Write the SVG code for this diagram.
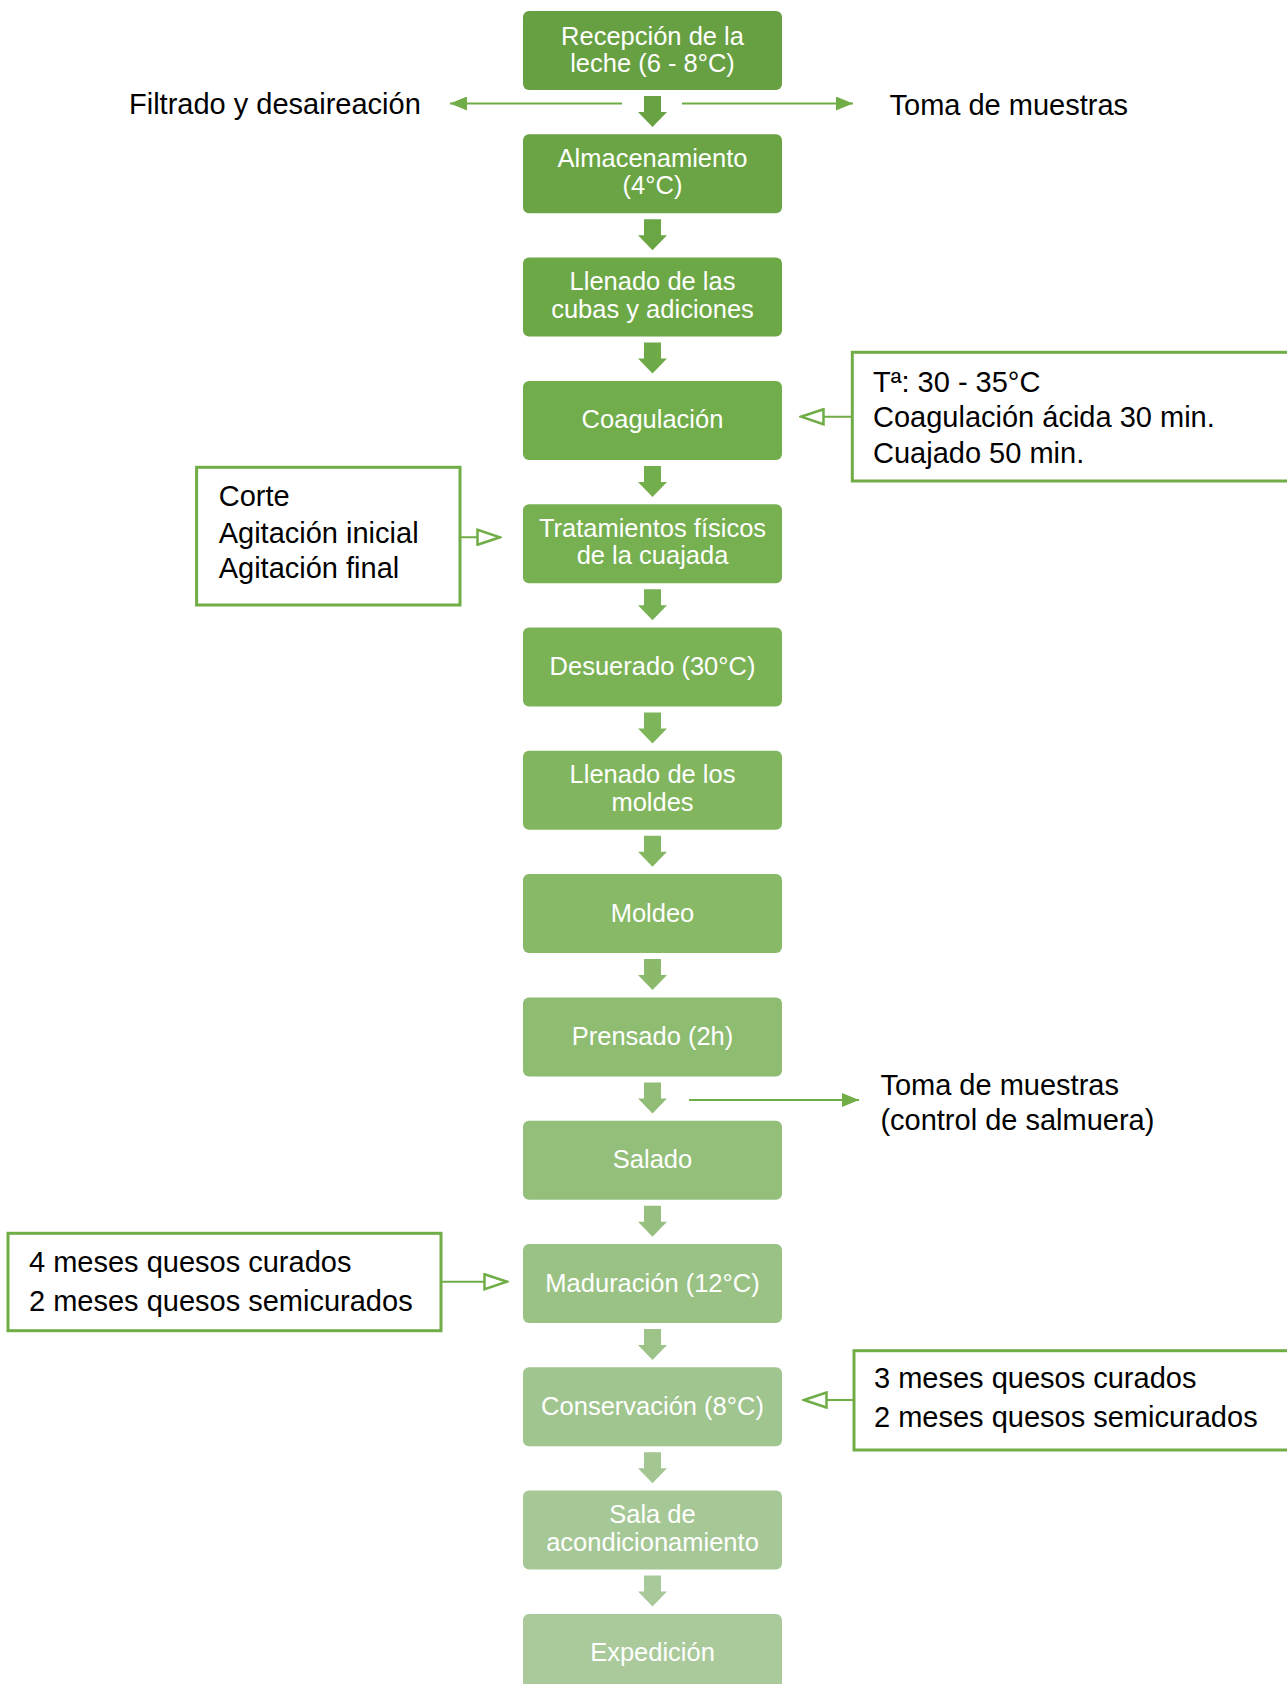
<svg xmlns="http://www.w3.org/2000/svg" xmlns:xlink="http://www.w3.org/1999/xlink" width="1287" height="1684" viewBox="0 0 1287 1684">
<style>
.bt{font-family:"Liberation Sans",Arial,sans-serif;font-size:25.5px;fill:#fff;text-anchor:middle}
.at{font-family:"Liberation Sans",Arial,sans-serif;font-size:29px;fill:#000}
.sb{fill:#fff;stroke:#70AD47;stroke-width:3}
.ln{stroke:#70AD47;stroke-width:2;fill:none}
</style>
<defs>
<path id="blk" d="M-8.5,0 H8.5 V16 H14.5 L0,31 L-14.5,16 H-8.5 Z"/>
<marker id="fa" viewBox="0 0 17 14" refX="17" refY="7" markerWidth="17" markerHeight="14" orient="auto" markerUnits="userSpaceOnUse">
<path d="M0,0 L17,7 L0,14 Z" fill="#70AD47"/>
</marker>
<marker id="oa" viewBox="0 0 26 18" refX="24" refY="9" markerWidth="26" markerHeight="18" orient="auto" markerUnits="userSpaceOnUse">
<path d="M1.5,1.5 L24,9 L1.5,16.5 Z" fill="#fff" stroke="#70AD47" stroke-width="2.5"/>
</marker>
</defs>
<rect width="1287" height="1684" fill="#fff"/>

<g id="connectors">
<use xlink:href="#blk" x="652.5" y="96" fill="#69A243"/>
<use xlink:href="#blk" x="652.5" y="219.3" fill="#6BA645"/>
<use xlink:href="#blk" x="652.5" y="342.6" fill="#6FAA48"/>
<use xlink:href="#blk" x="652.5" y="465.9" fill="#73AE4D"/>
<use xlink:href="#blk" x="652.5" y="589.2" fill="#78B153"/>
<use xlink:href="#blk" x="652.5" y="712.5" fill="#7EB45A"/>
<use xlink:href="#blk" x="652.5" y="835.8" fill="#84B762"/>
<use xlink:href="#blk" x="652.5" y="959.1" fill="#8BBA6C"/>
<use xlink:href="#blk" x="652.5" y="1082.4" fill="#91BD76"/>
<use xlink:href="#blk" x="652.5" y="1205.7" fill="#97C080"/>
<use xlink:href="#blk" x="652.5" y="1329" fill="#9DC389"/>
<use xlink:href="#blk" x="652.5" y="1452.3" fill="#A3C692"/>
<use xlink:href="#blk" x="652.5" y="1575.6" fill="#A8C999"/>
<line class="ln" x1="622" y1="103.5" x2="450" y2="103.5" marker-end="url(#fa)"/>
<line class="ln" x1="682" y1="103.5" x2="853" y2="103.5" marker-end="url(#fa)"/>
<line class="ln" x1="852" y1="416.7" x2="801" y2="416.7" marker-end="url(#oa)"/>
<line class="ln" x1="460" y1="537.3" x2="500" y2="537.3" marker-end="url(#oa)"/>
<line class="ln" x1="689" y1="1100" x2="859" y2="1100" marker-end="url(#fa)"/>
<line class="ln" x1="441" y1="1281.7" x2="507" y2="1281.7" marker-end="url(#oa)"/>
<line class="ln" x1="854" y1="1400" x2="804" y2="1400" marker-end="url(#oa)"/>
</g>

<g id="n0"><rect x="523" y="11" width="259" height="79" rx="6" fill="#67A042"/><text class="bt" x="652.5" y="44.5">Recepción de la</text><text class="bt" x="652.5" y="72">leche (6 - 8°C)</text></g>
<g id="n1"><rect x="523" y="134.3" width="259" height="79" rx="6" fill="#6AA444"/><text class="bt" x="652.5" y="166.8">Almacenamiento</text><text class="bt" x="652.5" y="194.3">(4°C)</text></g>
<g id="n2"><rect x="523" y="257.6" width="259" height="79" rx="6" fill="#6DA846"/><text class="bt" x="652.5" y="290.1">Llenado de las</text><text class="bt" x="652.5" y="317.6">cubas y adiciones</text></g>
<g id="n3"><rect x="523" y="380.9" width="259" height="79" rx="6" fill="#71AD4A"/><text class="bt" x="652.5" y="428.4">Coagulación</text></g>
<g id="n4"><rect x="523" y="504.2" width="259" height="79" rx="6" fill="#76B050"/><text class="bt" x="652.5" y="536.7">Tratamientos físicos</text><text class="bt" x="652.5" y="564.2">de la cuajada</text></g>
<g id="n5"><rect x="523" y="627.5" width="259" height="79" rx="6" fill="#7BB256"/><text class="bt" x="652.5" y="675">Desuerado (30°C)</text></g>
<g id="n6"><rect x="523" y="750.8" width="259" height="79" rx="6" fill="#81B65E"/><text class="bt" x="652.5" y="783.3">Llenado de los</text><text class="bt" x="652.5" y="810.8">moldes</text></g>
<g id="n7"><rect x="523" y="874.1" width="259" height="79" rx="6" fill="#88B967"/><text class="bt" x="652.5" y="921.6">Moldeo</text></g>
<g id="n8"><rect x="523" y="997.4" width="259" height="79" rx="6" fill="#8EBC71"/><text class="bt" x="652.5" y="1044.9">Prensado (2h)</text></g>
<g id="n9"><rect x="523" y="1120.7" width="259" height="79" rx="6" fill="#94BF7B"/><text class="bt" x="652.5" y="1168.2">Salado</text></g>
<g id="n10"><rect x="523" y="1244" width="259" height="79" rx="6" fill="#9BC285"/><text class="bt" x="652.5" y="1291.5">Maduración (12°C)</text></g>
<g id="n11"><rect x="523" y="1367.3" width="259" height="79" rx="6" fill="#A0C58E"/><text class="bt" x="652.5" y="1414.8">Conservación (8°C)</text></g>
<g id="n12"><rect x="523" y="1490.6" width="259" height="79" rx="6" fill="#A6C896"/><text class="bt" x="652.5" y="1523.1">Sala de</text><text class="bt" x="652.5" y="1550.6">acondicionamiento</text></g>
<g id="n13"><rect x="523" y="1613.9" width="259" height="79" rx="6" fill="#AACA9C"/><text class="bt" x="652.5" y="1661.4">Expedición</text></g>

<g id="filtrado"><text class="at" x="129" y="114">Filtrado y desaireación</text></g>
<g id="toma1"><text class="at" x="889.5" y="115">Toma de muestras</text></g>
<g id="coag-note"><rect class="sb" x="852.3" y="352.3" width="440" height="128.7"/><text class="at" x="873" y="391.7">Tª: 30 - 35°C</text><text class="at" x="873" y="427.3">Coagulación ácida 30 min.</text><text class="at" x="873" y="462.7">Cuajado 50 min.</text></g>
<g id="corte-note"><rect class="sb" x="196.6" y="467.3" width="263.4" height="137.7"/><text class="at" x="218.7" y="506">Corte</text><text class="at" x="218.7" y="542.7">Agitación inicial</text><text class="at" x="218.7" y="578.3">Agitación final</text></g>
<g id="toma2"><text class="at" x="880.4" y="1095">Toma de muestras</text><text class="at" x="880.4" y="1130">(control de salmuera)</text></g>
<g id="mad-note"><rect class="sb" x="8" y="1233.3" width="433" height="97.4"/><text class="at" x="29" y="1272.3">4 meses quesos curados</text><text class="at" x="29" y="1310.5">2 meses quesos semicurados</text></g>
<g id="cons-note"><rect class="sb" x="854" y="1350.7" width="440" height="99.3"/><text class="at" x="874" y="1388.3">3 meses quesos curados</text><text class="at" x="874" y="1426.7">2 meses quesos semicurados</text></g>
</svg>
